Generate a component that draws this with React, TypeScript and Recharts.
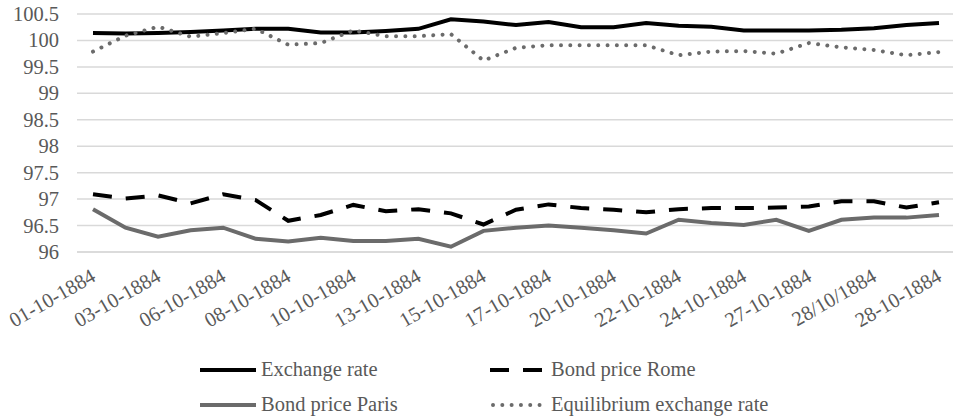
import { LineChart, Line, XAxis, YAxis, CartesianGrid, Legend } from 'recharts';

const dates = [
  '01-10-1884', '02-10-1884', '03-10-1884', '04-10-1884', '06-10-1884', '07-10-1884',
  '08-10-1884', '09-10-1884', '10-10-1884', '11-10-1884', '13-10-1884', '14-10-1884',
  '15-10-1884', '16-10-1884', '17-10-1884', '18-10-1884', '20-10-1884', '21-10-1884',
  '22-10-1884', '23-10-1884', '24-10-1884', '25-10-1884', '27-10-1884', '28-10-1884',
  '28/10/1884', '29-10-1884', '28-10-1884',
];

const exchangeRate = [
  100.14, 100.13, 100.14, 100.16, 100.19, 100.22, 100.22, 100.15, 100.15, 100.18,
  100.22, 100.4, 100.36, 100.29, 100.35, 100.25, 100.25, 100.33, 100.28, 100.26,
  100.19, 100.19, 100.19, 100.2, 100.23, 100.29, 100.33,
];

const bondRome = [
  97.09, 97.01, 97.07, 96.92, 97.09, 96.98, 96.59, 96.7, 96.89, 96.77,
  96.81, 96.73, 96.52, 96.8, 96.9, 96.83, 96.8, 96.75, 96.81, 96.83,
  96.83, 96.84, 96.86, 96.96, 96.96, 96.84, 96.94,
];

const bondParis = [
  96.81, 96.46, 96.29, 96.41, 96.46, 96.25, 96.2, 96.27, 96.21, 96.21,
  96.25, 96.1, 96.4, 96.46, 96.5, 96.46, 96.41, 96.35, 96.61, 96.55,
  96.51, 96.61, 96.4, 96.61, 96.65, 96.65, 96.7,
];

const equilibrium = [
  99.79, 100.09, 100.26, 100.07, 100.14, 100.22, 99.92, 99.95, 100.19, 100.08,
  100.08, 100.12, 99.62, 99.86, 99.91, 99.91, 99.91, 99.91, 99.72, 99.79,
  99.8, 99.75, 99.95, 99.87, 99.82, 99.72, 99.78,
];

const yTicks = [96, 96.5, 97, 97.5, 98, 98.5, 99, 99.5, 100, 100.5];

const data = dates.map((d, i) => ({
  date: d,
  exchange: exchangeRate[i],
  rome: bondRome[i],
  paris: bondParis[i],
  equilibrium: equilibrium[i],
}));

const FONT = "'Liberation Serif', 'Times New Roman', serif";
const FS = 20.5;
const TEXT = '#595959';

function DateTick({ x, y, payload }: any) {
  const tx = x + 4;
  const ty = y + 20;
  return (
    <text
      x={tx}
      y={ty}
      textAnchor="end"
      fill={TEXT}
      fontSize={FS}
      style={{ fontFamily: FONT }}
      transform={`rotate(-30, ${tx}, ${ty})`}
    >
      {payload.value}
    </text>
  );
}

function ValueTick({ x, y, payload }: any) {
  return (
    <text x={x} y={y} dy={7} textAnchor="end" fill={TEXT} fontSize={FS} style={{ fontFamily: FONT }}>
      {payload.value}
    </text>
  );
}

// legend order in the picture: 2 columns, 2 rows
const legendOrder = ['exchange', 'rome', 'paris', 'equilibrium'];

function LegendBox({ payload }: any) {
  const items = legendOrder
    .map((k) => (payload || []).find((p: any) => p.dataKey === k))
    .filter(Boolean);
  return (
    <div
      style={{
        display: 'grid',
        gridTemplateColumns: '290px auto',
        gridAutoRows: '35px',
        paddingLeft: 200,
        fontFamily: FONT,
        fontSize: FS,
        color: TEXT,
      }}
    >
      {items.map((it: any) => {
        const p = it.payload || {};
        return (
          <div key={it.dataKey} style={{ display: 'flex', alignItems: 'center' }}>
            <svg width={56} height={10} style={{ marginRight: 5 }}>
              <line
                x1={p.strokeLinecap === 'round' ? 3 : 0}
                y1={5}
                x2={p.strokeLinecap === 'round' ? 54 : 56}
                y2={5}
                stroke={it.color}
                strokeWidth={p.strokeWidth}
                strokeDasharray={p.strokeDasharray}
                strokeLinecap={p.strokeLinecap || 'butt'}
              />
            </svg>
            <span>{it.value}</span>
          </div>
        );
      })}
    </div>
  );
}

export default function App() {
  return (
    <div style={{ position: 'absolute', left: 0, top: 0, width: 953, height: 419, background: '#fff' }}>
      <LineChart width={953} height={419} data={data} margin={{ top: 14, right: 0, left: 0, bottom: 0 }}>
        <CartesianGrid vertical={false} stroke="#d9d9d9" strokeWidth={1.5} />
        <XAxis
          dataKey="date"
          interval={1}
          tickLine={false}
          axisLine={{ stroke: '#d9d9d9', strokeWidth: 1.5 }}
          padding={{ left: 16, right: 14 }}
          height={97}
          tick={<DateTick />}
        />
        <YAxis
          domain={[96, 100.5]}
          ticks={yTicks}
          interval={0}
          width={77}
          axisLine={false}
          tickLine={false}
          tickMargin={12}
          tick={<ValueTick />}
        />
        <Legend
          content={<LegendBox />}
          wrapperStyle={{ top: 352, left: 0, width: 953 }}
        />
        <Line
          dataKey="exchange"
          name="Exchange rate"
          stroke="#000000"
          strokeWidth={4}
          dot={false}
          isAnimationActive={false}
        />
        <Line
          dataKey="rome"
          name="Bond price Rome"
          stroke="#000000"
          strokeWidth={4}
          strokeDasharray="19 14"
          dot={false}
          isAnimationActive={false}
        />
        <Line
          dataKey="paris"
          name="Bond price Paris"
          stroke="#6b6b6b"
          strokeWidth={4}
          dot={false}
          isAnimationActive={false}
        />
        <Line
          dataKey="equilibrium"
          name="Equilibrium exchange rate"
          stroke="#6b6b6b"
          strokeWidth={4}
          strokeDasharray="0.01 9.3"
          strokeLinecap="round"
          dot={false}
          isAnimationActive={false}
        />
      </LineChart>
    </div>
  );
}
